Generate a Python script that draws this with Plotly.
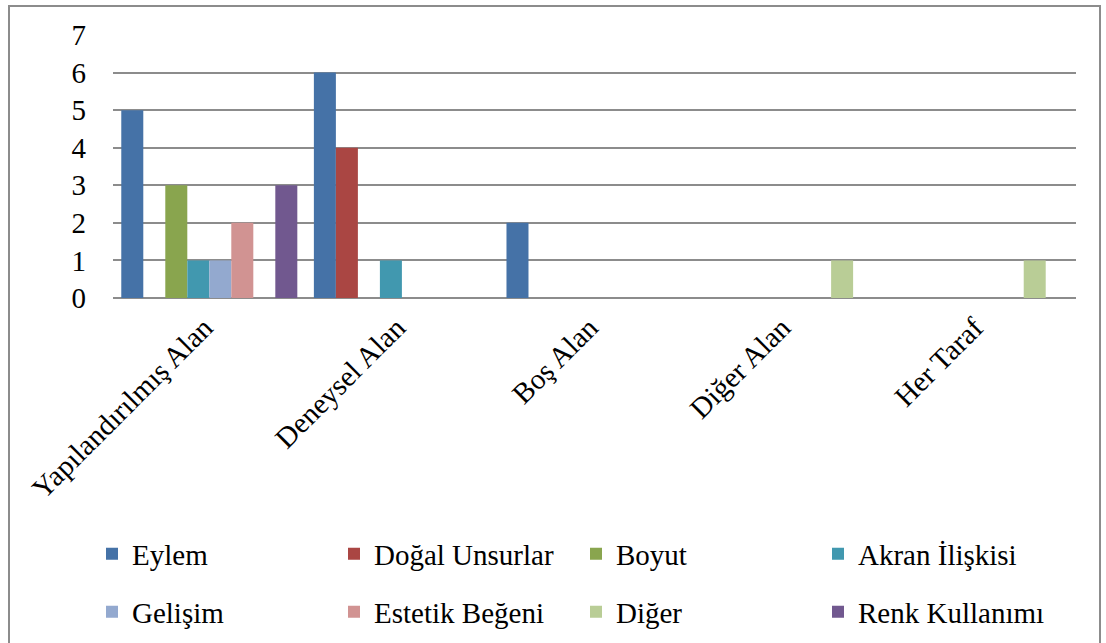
import plotly.graph_objects as go

categories = ["Yapılandırılmış Alan", "Deneysel Alan", "Boş Alan", "Diğer Alan", "Her Taraf"]
series_names = ["Eylem", "Doğal Unsurlar", "Boyut", "Akran İlişkisi",
                "Gelişim", "Estetik Beğeni", "Diğer", "Renk Kullanımı"]
eylem = [5, 6, 2, 0, 0]
dogal = [0, 4, 0, 0, 0]
boyut = [3, 0, 0, 0, 0]
akran = [1, 1, 0, 0, 0]
gelisim = [1, 0, 0, 0, 0]
estetik = [2, 0, 0, 0, 0]
diger = [0, 0, 0, 1, 1]
renk = [3, 0, 0, 0, 0]
y_ticks = [0, 1, 2, 3, 4, 5, 6, 7]

values = [eylem, dogal, boyut, akran, gelisim, estetik, diger, renk]
colors = ["#4572A7", "#AA4643", "#89A54E", "#4198AF",
          "#93A9CF", "#D19392", "#B9CD96", "#71588F"]

FONT = "Liberation Serif"
FS = 29

fig = go.Figure()
for i, (name, vals, col) in enumerate(zip(series_names, values, colors)):
    fig.add_trace(go.Bar(
        x=categories, y=vals, name=name, marker_color=col,
        marker_line_width=0,
        legend="legend" if i < 4 else "legend2",
    ))

W, H = 1106, 643
L, R, T, B = 113, 30, 35, 345
pw, ph = W - L - R, H - T - B

def px_x(px):
    return (px - L) / pw

def px_y(py):
    return (H - B - py) / ph

legend_common = dict(
    orientation="h", xanchor="left", yanchor="middle",
    font=dict(family=FONT, size=FS, color="#000000"),
    entrywidth=197, entrywidthmode="pixels",
    bgcolor="rgba(0,0,0,0)", itemsizing="constant",
    traceorder="normal",
)

fig.update_layout(
    width=W, height=H,
    margin=dict(l=L, r=R, t=T, b=B, pad=0, autoexpand=False),
    paper_bgcolor="white", plot_bgcolor="white",
    barmode="group", bargap=0.086, bargroupgap=0,
    font=dict(family=FONT, size=FS, color="#000000"),
    showlegend=True,
    legend=dict(x=px_x(92), y=px_y(554), **legend_common),
    legend2=dict(x=px_x(92), y=px_y(612), **legend_common),
    xaxis=dict(
        type="category", tickangle=-45, showgrid=False, showline=False,
        ticks="", ticklabelstandoff=6, ticklabelshift=-5, automargin=False,
        tickfont=dict(family=FONT, size=FS, color="#000000"),
    ),
    yaxis=dict(
        range=[0, 7], tickvals=y_ticks, showgrid=True,
        gridcolor="#8C8C8C", gridwidth=2, zeroline=True,
        zerolinecolor="#8C8C8C", zerolinewidth=2, showline=False,
        ticks="", ticklabelstandoff=26, automargin=False,
        tickfont=dict(family=FONT, size=FS, color="#000000"),
    ),
    shapes=[dict(
        type="rect", xref="paper", yref="paper",
        x0=px_x(9), x1=px_x(1100), y0=px_y(660), y1=px_y(6),
        line=dict(color="#8C8C8C", width=2), fillcolor="rgba(0,0,0,0)",
        layer="below",
    )],
)

fig.write_html("out.html")
